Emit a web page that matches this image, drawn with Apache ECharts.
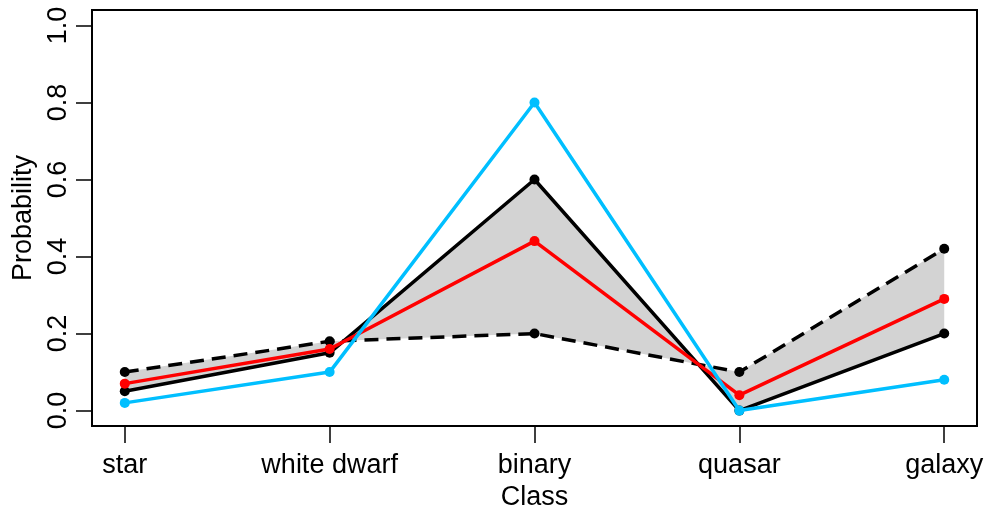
<!DOCTYPE html>
<html>
<head>
<meta charset="utf-8">
<script src="https://cdn.jsdelivr.net/npm/echarts@6/dist/echarts.min.js"></script>
<style>
  html, body { margin: 0; padding: 0; background: #fff; }
  #chart { width: 986px; height: 510px; }
</style>
</head>
<body>
<div id="chart"></div>
<script>
// classes on the x axis
const classes = ['star', 'white dwarf', 'binary', 'quasar', 'galaxy'];
const yTicks = [0, 0.2, 0.4, 0.6, 0.8, 1.0];

// probability curves
const upperSolid = [0.05, 0.15, 0.60, 0.00, 0.20];
const lowerDashed = [0.10, 0.18, 0.20, 0.10, 0.42];
const meanRed = [0.07, 0.16, 0.44, 0.04, 0.29];
const blueLine = [0.02, 0.10, 0.80, 0.00, 0.08];

const font = 'Liberation Sans, Arial, sans-serif';
const pts = arr => arr.map((v, i) => [i, v]);

const chart = echarts.init(document.getElementById('chart'));

// band between the two black curves, drawn as one polygon
const band = {
  type: 'custom',
  silent: true,
  z: 1,
  data: [0],
  renderItem: (params, api) => {
    const poly = [];
    upperSolid.forEach((v, i) => poly.push(api.coord([i, v])));
    for (let i = lowerDashed.length - 1; i >= 0; i--) poly.push(api.coord([i, lowerDashed[i]]));
    return {
      type: 'polygon',
      shape: { points: poly },
      style: { fill: '#d3d3d3', stroke: null }
    };
  }
};

function line(data, color, dashed, z) {
  return {
    type: 'line',
    data: pts(data),
    z: z,
    symbol: 'circle',
    symbolSize: 10,
    showSymbol: true,
    animation: false,
    itemStyle: { color: color },
    lineStyle: { color: color, width: 3.5, type: dashed ? [14, 8] : 'solid' }
  };
}

const option = {
  animation: false,
  grid: {
    left: 92, right: 9, top: 10, bottom: 84,
    outerBoundsMode: 'none',
    containLabel: false,
    show: true, borderColor: '#000', borderWidth: 2, backgroundColor: 'transparent'
  },
  xAxis: {
    type: 'value',
    min: -0.16, max: 4.16,
    name: 'Class',
    nameLocation: 'middle',
    nameGap: 56,
    nameTextStyle: { color: '#000', fontSize: 27, fontFamily: font },
    axisLine: { show: false, onZero: false },
    splitLine: { show: false },
    axisTick: { show: true, length: 17, lineStyle: { color: '#000', width: 1.5 }, customValues: [0, 1, 2, 3, 4] },
    axisLabel: {
      customValues: [0, 1, 2, 3, 4],
      margin: 26,
      color: '#000', fontSize: 27, fontFamily: font,
      formatter: v => classes[Math.round(v)]
    }
  },
  yAxis: {
    type: 'value',
    min: -0.04, max: 1.04,
    name: 'Probability',
    nameLocation: 'middle',
    nameGap: 54,
    nameRotate: 90,
    nameTextStyle: { color: '#000', fontSize: 27, fontFamily: font },
    axisLine: { show: false, onZero: false },
    splitLine: { show: false },
    axisTick: { show: true, length: 16, lineStyle: { color: '#000', width: 1.5 }, customValues: yTicks },
    axisLabel: {
      customValues: yTicks,
      rotate: 90,
      margin: 20,
      color: '#000', fontSize: 27, fontFamily: font,
      formatter: v => v.toFixed(1)
    }
  },
  series: [
    band,
    line(lowerDashed, '#000000', true, 2),
    line(upperSolid, '#000000', false, 3),
    line(meanRed, '#ff0000', false, 4),
    line(blueLine, '#00bfff', false, 5)
  ]
};

chart.setOption(option);
</script>
</body>
</html>
